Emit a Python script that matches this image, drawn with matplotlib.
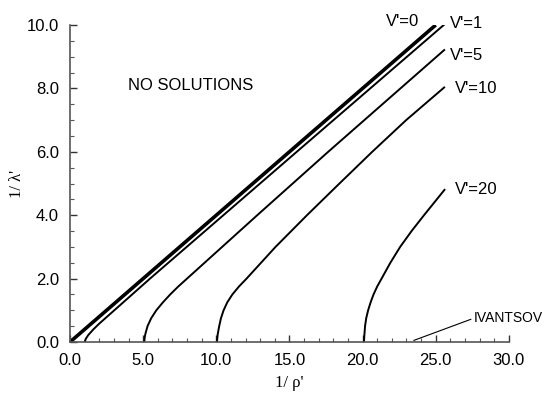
import numpy as np
import matplotlib
matplotlib.use('Agg')
import matplotlib.pyplot as plt
from matplotlib.ticker import MultipleLocator, FormatStrFormatter

#-------------------------------------------------------------
# Data (1/rho' vs 1/lambda')
x_v0 = [0.0, 25.0]
y_v0 = [0.0, 10.0]

x_v1 = [1.0, 1.08, 1.25, 1.6, 2.0, 5.47, 15.5, 25.55]
y_v1 = [0.0, 0.1, 0.22, 0.4, 0.58, 2.0, 6.0, 10.0]

x_v5 = [5.08, 5.1, 5.15, 5.3, 5.55, 5.9, 6.35, 6.85, 7.4, 8.0, 12.8, 17.65, 25.58]
y_v5 = [0.0, 0.12, 0.25, 0.5, 0.75, 1.0, 1.25, 1.5, 1.75, 2.0, 4.0, 6.0, 9.21]

x_v10 = [10.05, 10.07, 10.1, 10.2, 10.32, 10.5, 10.75, 11.1, 11.55, 12.07, 14.05, 16.2, 18.42, 20.66, 22.98, 25.58]
y_v10 = [0.0, 0.12, 0.25, 0.5, 0.75, 1.0, 1.25, 1.5, 1.75, 2.0, 3.0, 4.0, 5.0, 6.0, 7.0, 8.03]

x_v20 = [20.1, 20.11, 20.13, 20.17, 20.25, 20.38, 20.55, 20.75, 21.0, 21.3, 21.9, 22.57, 23.35, 24.2, 25.6]
y_v20 = [0.0, 0.12, 0.25, 0.5, 0.75, 1.0, 1.25, 1.5, 1.75, 2.0, 2.5, 3.0, 3.5, 4.0, 4.8]

curve_labels = ["V'=0", "V'=1", "V'=5", "V'=10", "V'=20"]
label_x = [21.6, 25.95, 25.95, 26.3, 26.3]
label_y = [10.1, 10.05, 9.05, 8.0, 4.8]

#-------------------------------------------------------------
plt.rcParams['font.family'] = ['Liberation Sans', 'DejaVu Sans']

fig = plt.figure(figsize=(5.52, 3.97), dpi=100)
ax = fig.add_axes([0.1268, 0.1385, 0.795, 0.7985])

ax.plot(x_v0, y_v0, color='black', lw=2.6, solid_capstyle='butt')
for xs, ys in [(x_v1, y_v1), (x_v5, y_v5), (x_v10, y_v10), (x_v20, y_v20)]:
    ax.plot(xs, ys, color='black', lw=1.4)

for t, lx, ly in zip(curve_labels, label_x, label_y):
    ax.text(lx, ly, t, fontsize=12, ha='left', va='center', clip_on=False)

ax.text(3.95, 8.1, 'NO SOLUTIONS', fontsize=12, ha='left', va='center')

ax.annotate('IVANTSOV', xy=(23.5, 0.05), xytext=(27.6, 0.75),
            fontsize=10, ha='left', va='center', annotation_clip=False,
            arrowprops=dict(arrowstyle='-', color='black', lw=0.8,
                            shrinkA=0, shrinkB=0,
                            relpos=(0, 0.5)))

ax.set_xlim(0, 30)
ax.set_ylim(0, 10)
ax.xaxis.set_major_locator(MultipleLocator(5))
ax.xaxis.set_minor_locator(MultipleLocator(1))
ax.yaxis.set_major_locator(MultipleLocator(2))
ax.yaxis.set_minor_locator(MultipleLocator(0.5))
ax.xaxis.set_major_formatter(FormatStrFormatter('%.1f'))
ax.yaxis.set_major_formatter(FormatStrFormatter('%.1f'))

ax.spines['top'].set_visible(False)
ax.spines['right'].set_visible(False)
for s in ['left', 'bottom']:
    ax.spines[s].set_color('#555555')
    ax.spines[s].set_linewidth(1.2)

ax.tick_params(which='major', direction='in', length=5, width=1, color='#333333',
               labelsize=12, pad=8)
ax.tick_params(which='minor', direction='in', length=3, width=0.8, color='#555555')

ax.set_xlabel("1/ ρ'", family=['Liberation Serif', 'DejaVu Serif'], fontsize=12, labelpad=5)
ax.set_ylabel("1/ λ'", family=['Liberation Serif', 'DejaVu Serif'], fontsize=12, labelpad=1)

fig.savefig('out.png', dpi=100)
